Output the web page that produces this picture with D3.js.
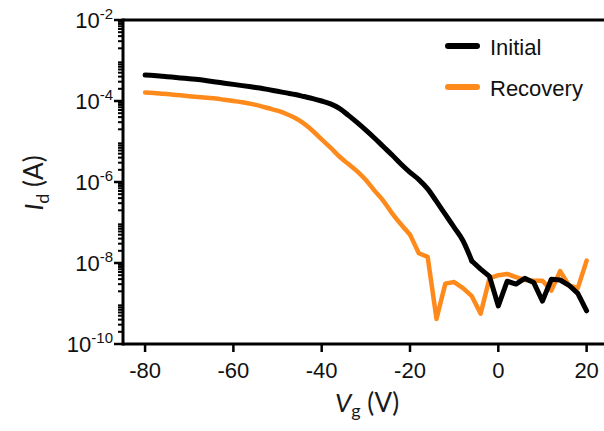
<!DOCTYPE html>
<html><head><meta charset="utf-8">
<script src="https://cdn.jsdelivr.net/npm/d3@7"></script>
<style>body{margin:0;background:#fff}svg{display:block}</style>
</head><body>
<svg id="c" width="604" height="431"></svg>
<script>
const vg = [-80,-78,-76,-74,-72,-70,-68,-66,-64,-62,-60,-58,-56,-54,-52,-50,-48,-46,-44,-42,-40,-38,-36,-34,-32,-30,-28,-26,-24,-22,-20,-18,-16,-14,-12,-10,-8,-6,-4,-2,0,2,4,6,8,10,12,14,16,18,20];
// log10(Id) values
const initialLog = [-3.36,-3.37,-3.39,-3.41,-3.43,-3.45,-3.47,-3.50,-3.53,-3.56,-3.59,-3.62,-3.65,-3.68,-3.72,-3.76,-3.80,-3.84,-3.89,-3.94,-4.00,-4.07,-4.18,-4.35,-4.53,-4.72,-4.92,-5.13,-5.34,-5.56,-5.76,-5.94,-6.17,-6.48,-6.80,-7.12,-7.45,-7.95,-8.15,-8.33,-9.06,-8.45,-8.52,-8.38,-8.48,-8.94,-8.40,-8.42,-8.55,-8.75,-9.18];
const recoveryLog = [-3.79,-3.80,-3.82,-3.84,-3.86,-3.88,-3.90,-3.92,-3.94,-3.97,-4.00,-4.03,-4.07,-4.12,-4.18,-4.24,-4.32,-4.42,-4.56,-4.74,-4.95,-5.15,-5.37,-5.55,-5.73,-5.95,-6.22,-6.47,-6.78,-7.05,-7.30,-7.76,-7.85,-9.38,-8.51,-8.47,-8.62,-8.82,-9.25,-8.38,-8.30,-8.27,-8.35,-8.42,-8.44,-8.44,-8.68,-8.20,-8.55,-8.62,-7.94];
const xTicks = [-80,-60,-40,-20,0,20];
const yTickExps = [-2,-4,-6,-8,-10];
const seriesNames = ["Initial","Recovery"];
const seriesColors = ["#000000","#ff8a1c"];

const svg = d3.select("#c");
const x = d3.scaleLinear().domain([-85,25]).range([123,608.7]);
const y = d3.scaleLog().domain([1e-10,1e-2]).range([344,20]);

// data lines: smooth part (monotone) + noisy part (linear)
const smooth = d3.line().x(d=>x(d[0])).y(d=>y(Math.pow(10,d[1]))).curve(d3.curveMonotoneX);
const straight = d3.line().x(d=>x(d[0])).y(d=>y(Math.pow(10,d[1])));
function drawSeries(vals, split, color, w){
  const data = vg.map((v,i)=>[v,vals[i]]);
  const a = data.filter(d=>d[0]<=split), b = data.filter(d=>d[0]>=split);
  [[a,smooth],[b,straight]].forEach(([dd,gen])=>{
    svg.append("path").datum(dd).attr("d",gen).attr("fill","none")
      .attr("stroke",color).attr("stroke-width",w).attr("stroke-linejoin","round").attr("stroke-linecap","round");
  });
}
drawSeries(recoveryLog, -20, seriesColors[1], 4.5);
drawSeries(initialLog, -6, seriesColors[0], 5);

// axes
const ax = svg.append("g").attr("stroke","#000");
ax.append("line").attr("x1",x(-85)).attr("x2",x(25)).attr("y1",y(1e-10)).attr("y2",y(1e-10)).attr("stroke-width",3);
ax.append("line").attr("x1",x(-85)).attr("x2",x(25)).attr("y1",y(1e-2)).attr("y2",y(1e-2)).attr("stroke-width",3);
ax.append("line").attr("x1",x(-85)).attr("x2",x(-85)).attr("y1",y(1e-10)+1.5).attr("y2",y(1e-2)-1.5).attr("stroke-width",3);

// x ticks
xTicks.forEach(t=>{
  ax.append("line").attr("x1",x(t)).attr("x2",x(t)).attr("y1",y(1e-10)).attr("y2",y(1e-10)+8).attr("stroke-width",2.5);
  svg.append("text").attr("x",x(t)).attr("y",378).attr("text-anchor","middle")
    .attr("font-family","Liberation Sans, Arial, sans-serif").attr("font-size",22).attr("fill","#111").text(t);
});
// y ticks major + minor
const x0 = x(-85);
for(let e=-10;e<-2;e++){
  for(let m=2;m<=9;m++){
    const v = m*Math.pow(10,e);
    ax.append("line").attr("x1",x0).attr("x2",x0-5).attr("y1",y(v)).attr("y2",y(v)).attr("stroke-width",2);
  }
}
yTickExps.forEach(e=>{
  const v = Math.pow(10,e);
  ax.append("line").attr("x1",x0).attr("x2",x0-9).attr("y1",y(v)).attr("y2",y(v)).attr("stroke-width",2.5);
  const t = svg.append("text").attr("x",x0-10).attr("y",y(v)+8).attr("text-anchor","end")
    .attr("font-family","Liberation Sans, Arial, sans-serif").attr("font-size",22).attr("fill","#111");
  t.append("tspan").text("10");
  t.append("tspan").attr("dy",-9).attr("font-size",15).text(String(e));
});

// axis titles
const yt = svg.append("text").attr("transform","translate(43,183) rotate(-90)").attr("text-anchor","middle")
  .attr("font-family","Lato, sans-serif").attr("font-size",26).attr("fill","#1a1a1a");
yt.append("tspan").attr("font-style","italic").text("I");
yt.append("tspan").attr("font-size",18).attr("dy",6).text("d");
yt.append("tspan").attr("dy",-6).text(" (A)");

const xt = svg.append("text").attr("x",367).attr("y",412).attr("text-anchor","middle")
  .attr("font-family","Lato, sans-serif").attr("font-size",26).attr("fill","#1a1a1a");
xt.append("tspan").attr("font-style","italic").text("V");
xt.append("tspan").attr("font-size",18).attr("dy",5).text("g");
xt.append("tspan").attr("dy",-5).text(" (V)");

// legend
const legY = [46,87];
seriesNames.forEach((n,i)=>{
  svg.append("line").attr("x1",448).attr("x2",477).attr("y1",legY[i]).attr("y2",legY[i])
    .attr("stroke",seriesColors[i]).attr("stroke-width",6).attr("stroke-linecap","round");
  svg.append("text").attr("x",490).attr("y",legY[i]+8.5).attr("font-family","Liberation Sans, Arial, sans-serif")
    .attr("font-size",22).attr("fill","#111").text(n);
});
</script>
</body></html>
